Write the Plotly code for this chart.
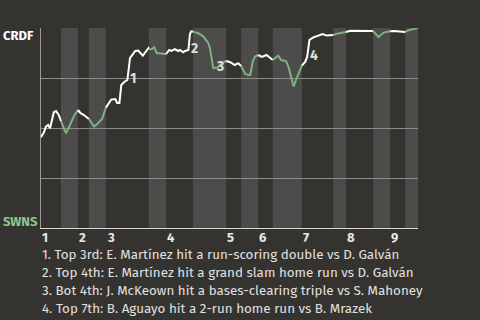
import plotly.graph_objects as go

# Half-inning boundaries (game progress, 0-100)
boundaries = [0, 5.3, 9.8, 12.7, 17.2, 28.6, 33.2, 40.3, 49.1, 53.1, 57.6,
              61.5, 69.2, 77.5, 80.9, 88.1, 92.6, 96.6, 100]
inning_labels = ["1", "2", "3", "4", "5", "6", "7", "8", "9"]

# CRDF win probability (%) over game progress
prog = [0, 0.8, 1.3, 1.9, 2.4, 3.4, 4.0, 4.7, 5.3,
        6.6, 7.7, 8.8, 9.8,
        10.5, 11.4, 12.5, 12.7,
        14.1, 15.1, 16.2, 17.2,
        18.0, 18.6, 19.7, 20.2, 20.8, 21.3, 22.0, 22.9, 23.3, 23.6, 25.0, 25.8, 27.0, 28.5, 28.6,
        29.4, 30.0, 30.7, 32.9, 33.2,
        34.0, 34.6, 35.5, 36.4, 36.9, 37.7, 38.2, 39.1, 39.5, 39.8, 40.3,
        41.7, 43.1, 44.4, 44.8, 45.5, 45.7, 46.8, 47.9, 49.1,
        50.2, 51.4, 52.3, 53.1,
        54.2, 55.5, 56.2, 56.8, 57.6,
        58.6, 59.8, 60.8, 61.5,
        62.9, 63.7, 65.0, 65.7, 66.4, 67.0, 67.6, 68.8, 69.2,
        70.1, 70.6, 71.2, 72.1, 72.7, 74.7, 75.8, 76.7, 77.5,
        78.8, 80.9,
        82.0, 87.8, 88.1,
        88.7, 89.5, 90.9, 92.6,
        93.6, 96.6,
        97.7, 100]
wp = [45.4, 48, 50.7, 51.5, 49.9, 57.9, 58.5, 56.5, 53.5,
      47.4, 51.5, 56.2, 59,
      57.4, 56.5, 54.9, 54.5,
      50.7, 52.4, 54.5, 60.2,
      62.4, 64.2, 64.5, 62.5, 62.5, 71.5, 72.9, 74, 79.9, 84.9, 88.5, 88.7, 86.2, 89.9, 89.5,
      89.4, 90.4, 87.5, 87, 87,
      89, 88.5, 89.4, 88.5, 89, 87.9, 88.5, 89, 96.9, 98.2, 98.2,
      97.4, 95.7, 92.4, 89.9, 81.5, 79.9, 80.2, 82.4, 83.5,
      82.9, 81.5, 82.4, 81,
      76.9, 76.5, 83.5, 85.7, 86.5,
      85.5, 86.5, 84.9, 84,
      86.2, 84, 83.5, 80.2, 74.9, 70.7, 74, 79.9, 81.2,
      83.2, 85.5, 94, 95.2, 95.7, 97, 96.2, 96.5, 96.5,
      97.3, 98,
      98.6, 98.5, 98.5,
      97.3, 95.5, 97.7, 98.4,
      98.5, 98,
      99, 100]

# Key events: (game progress, win prob before the play, label)
event_prog = [22.9, 39.1, 45.7, 70.6]
event_wp = [74, 89, 79.9, 85.5]
event_labels = ["1", "2", "3", "4"]

notes = [
    "1. Top 3rd: E. Martínez hit a run-scoring double vs D. Galván",
    "2. Top 4th: E. Martínez hit a grand slam home run vs D. Galván",
    "3. Bot 4th: J. McKeown hit a bases-clearing triple vs S. Mahoney",
    "4. Top 7th: B. Aguayo hit a 2-run home run vs B. Mrazek",
]

BG = "#35332f"
BAND = "#4e4c4a"
WHITE = "#ffffff"
GREEN = "#7fb07f"
FONT = "Fira Sans, Open Sans, Noto Sans, sans-serif"

fig = go.Figure()

# Line segments per half inning: white for top halves (CRDF batting), green for bottom
for i in range(len(boundaries) - 1):
    a, b = boundaries[i], boundaries[i + 1]
    xs = [p for p in prog if a - 1e-9 <= p <= b + 1e-9]
    ys = [w for p, w in zip(prog, wp) if a - 1e-9 <= p <= b + 1e-9]
    fig.add_trace(go.Scatter(
        x=xs, y=ys, mode="lines",
        line=dict(color=WHITE if i % 2 == 0 else GREEN, width=2),
        hoverinfo="skip", showlegend=False, cliponaxis=False))

shapes = []
for i in range(1, len(boundaries) - 1, 2):
    shapes.append(dict(type="rect", xref="x", yref="paper",
                       x0=boundaries[i], x1=boundaries[i + 1], y0=0, y1=1,
                       fillcolor=BAND, line=dict(width=0), layer="below"))

annotations = []
for k, lab in enumerate(inning_labels):
    annotations.append(dict(x=boundaries[2 * k], y=0, xref="x", yref="paper",
                            text="<b>%s</b>" % lab, showarrow=False, borderpad=0,
                            xanchor="left", yanchor="middle", xshift=0, yshift=-9,
                            font=dict(family=FONT, size=13, color="#e8e8e8")))
for px, py, lab in zip(event_prog, event_wp, event_labels):
    annotations.append(dict(x=px, y=py, xref="x", yref="y",
                            text="<b>%s</b>" % lab, showarrow=False,
                            xanchor="left", yanchor="middle", xshift=1, yshift=2,
                            font=dict(family=FONT, size=14, color="#dddddd")))
annotations.append(dict(x=0, y=1, xref="paper", yref="paper", text="<b>CRDF</b>",
                        showarrow=False, xanchor="left", yanchor="middle",
                        xshift=-40, yshift=-7,
                        font=dict(family=FONT, size=13, color="#ffffff")))
annotations.append(dict(x=0, y=0, xref="paper", yref="paper", text="<b>SWNS</b>",
                        showarrow=False, xanchor="left", yanchor="middle",
                        xshift=-40, yshift=7,
                        font=dict(family=FONT, size=13, color="#8cc48c")))
for j, t in enumerate(notes):
    annotations.append(dict(x=0, y=0, xref="paper", yref="paper", text=t,
                            showarrow=False, xanchor="left", yanchor="middle",
                            xshift=0, yshift=-(26.5 + 18 * j), borderpad=0,
                            font=dict(family=FONT, size=13.4, color="#e0e0e0")))

fig.update_layout(
    width=480, height=320,
    margin=dict(l=41, r=62, t=28, b=92),
    paper_bgcolor=BG, plot_bgcolor=BG,
    shapes=shapes, annotations=annotations,
    xaxis=dict(range=[0, 100], showgrid=False, zeroline=False,
               showticklabels=False, ticks="", showline=True,
               linecolor="#d8d8d8", linewidth=1, fixedrange=True),
    yaxis=dict(range=[0, 100], tickvals=[0, 25, 50, 75, 100], showgrid=True,
               gridcolor="#8c8c8c", gridwidth=1, zeroline=False,
               showticklabels=False, ticks="", showline=True,
               linecolor="#9a9a9a", linewidth=1, fixedrange=True),
    showlegend=False,
)

fig.write_html("out.html", config={"displayModeBar": False})
